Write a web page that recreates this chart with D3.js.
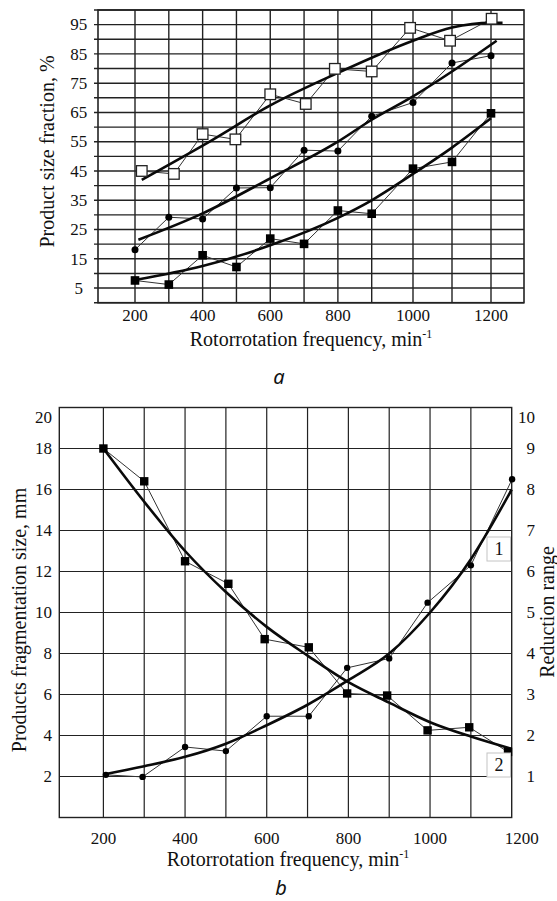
<!DOCTYPE html>
<html>
<head>
<meta charset="utf-8">
<script src="https://cdn.jsdelivr.net/npm/d3@7"></script>
<style>
  body { margin: 0; background: #fff; }
  svg { display: block; }
  svg text { font-family: "Liberation Serif", "DejaVu Serif", "Times New Roman", serif; fill: #111; }
  svg text.tag { font-family: "Noto Sans", "Open Sans", "DejaVu Sans", sans-serif; font-style: italic; }
</style>
</head>
<body>
<svg id="chart" width="557" height="901"></svg>
<script>
"use strict";

// ---- panel a: product size fraction, % ----
const freq = [200, 300, 400, 500, 600, 700, 800, 900, 1000, 1100, 1200];
const openSqFreq = [220, 315, 400, 497, 600, 705, 791, 900, 993, 1095, 1202];
const openSq = [45, 44, 57.6, 55.8, 71.2, 67.9, 79.9, 79.0, 93.9, 89.5, 97.0];
const dots = [18.1, 29.2, 28.6, 39.2, 39.3, 52.1, 51.8, 63.7, 68.4, 81.9, 84.4];
const filledSq = [7.6, 6.2, 16.2, 12.2, 21.9, 20.1, 31.5, 30.4, 45.8, 48.1, 64.7];

const openTrendFreq = [220, 427, 600, 800, 1000, 1100, 1200, 1235];
const openTrend = [42, 55.5, 67.4, 78.5, 89.5, 94, 95.6, 95.6];
const dotTrendFreq = [210, 400, 600, 800, 900, 1000, 1100, 1217];
const dotTrend = [21.5, 30.5, 42.5, 55, 62.5, 70.5, 79, 89.5];
const sqTrendFreq = [200, 400, 600, 800, 900, 1000, 1100, 1200];
const sqTrend = [7.75, 12.5, 19.6, 29, 35, 44, 53, 63];

const topYTicks = d3.range(0, 101, 5);
const topXLabels = [200, 400, 600, 800, 1000, 1200];

// ---- panel b: fragmentation size / reduction range ----
const fragFreq = [200, 300, 400, 506, 595, 703, 797, 895, 994, 1096, 1191];
const fragSize = [18.0, 16.4, 12.5, 11.4, 8.7, 8.3, 6.05, 5.95, 4.25, 4.4, 3.2];
const redFreq = [206, 296, 400, 500, 600, 703, 797, 900, 994, 1100, 1201];
const reduction = [1.04, 0.99, 1.72, 1.62, 2.47, 2.47, 3.65, 3.88, 5.24, 6.15, 8.25];
const fragTrend = [18, 15.4, 13.0, 11.0, 9.3, 7.9, 6.6, 5.6, 4.65, 3.95, 3.35];
const redTrend = [1.05, 1.25, 1.48, 1.8, 2.25, 2.75, 3.35, 4.0, 5.0, 6.3, 8.0];

const leftTicksB = d3.range(2, 21, 2);
const rightTicksB = d3.range(1, 11, 1);
const bottomXLabels = [200, 400, 600, 800, 1000, 1200];

const svg = d3.select("#chart");

function xTitle(g, cx, y) {
  let t = g.append("text")
    .attr("x", cx).attr("y", y)
    .attr("text-anchor", "middle")
    .attr("font-size", 20)
    .text("Rotorrotation frequency, min");
  t.append("tspan")
    .attr("dy", -8)
    .attr("font-size", 12)
    .text("-1");
}

function drawTop() {
  let x = d3.scaleLinear()
    .domain([100, 200, 900, 1000, 1200, 1300])
    .range([98, 135, 371.7, 413, 491, 524]);
  let y = d3.scaleLinear().domain([0, 100]).range([302.7, 10]);
  let g = svg.append("g");

  // grid
  g.append("g").selectAll("line").data(topYTicks).join("line")
    .attr("x1", 94).attr("x2", 524)
    .attr("y1", d => y(d)).attr("y2", d => y(d))
    .attr("stroke", "#222").attr("stroke-width", 1.4);
  g.append("g").selectAll("line").data(freq).join("line")
    .attr("x1", d => x(d)).attr("x2", d => x(d))
    .attr("y1", y(0)).attr("y2", y(100))
    .attr("stroke", "#222").attr("stroke-width", 1.4);
  g.append("rect")
    .attr("x", x(100)).attr("y", y(100))
    .attr("width", x(1300) - x(100)).attr("height", y(0) - y(100))
    .attr("fill", "none").attr("stroke", "#222").attr("stroke-width", 1.6);

  // tick labels
  g.append("g").selectAll("text").data(topYTicks.filter(d => d % 10 === 5)).join("text")
    .attr("x", 78.7).attr("y", d => y(d)).attr("dy", "0.34em")
    .attr("text-anchor", "middle").attr("font-size", 17)
    .text(d => d);
  g.append("g").selectAll("text").data(topXLabels).join("text")
    .attr("x", d => x(d)).attr("y", y(0) + 18)
    .attr("text-anchor", "middle").attr("font-size", 17)
    .text(d => d);

  xTitle(g, 311, 346);
  g.append("text")
    .attr("transform", "translate(54,151.5) rotate(-90)")
    .attr("text-anchor", "middle").attr("font-size", 20)
    .text("Product size fraction, %");

  let thin = d3.line().x(d => x(d[0])).y(d => y(d[1]));
  let thick = d3.line().x(d => x(d[0])).y(d => y(d[1])).curve(d3.curveMonotoneX);

  let series = [
    { f: openSqFreq, v: openSq, tf: openTrendFreq, tv: openTrend },
    { f: freq, v: dots, tf: dotTrendFreq, tv: dotTrend },
    { f: freq, v: filledSq, tf: sqTrendFreq, tv: sqTrend }
  ];
  series.forEach(function(s) {
    g.append("path")
      .attr("d", thin(d3.zip(s.f, s.v)))
      .attr("fill", "none").attr("stroke", "#333").attr("stroke-width", 1);
    g.append("path")
      .attr("d", thick(d3.zip(s.tf, s.tv)))
      .attr("fill", "none").attr("stroke", "#0a0a0a").attr("stroke-width", 2.6);
  });

  g.append("g").selectAll("rect").data(d3.zip(openSqFreq, openSq)).join("rect")
    .attr("x", d => x(d[0]) - 5.3).attr("y", d => y(d[1]) - 5.3)
    .attr("width", 10.6).attr("height", 10.6)
    .attr("fill", "#fff").attr("stroke", "#222").attr("stroke-width", 1.3);
  g.append("g").selectAll("circle").data(d3.zip(freq, dots)).join("circle")
    .attr("cx", d => x(d[0])).attr("cy", d => y(d[1])).attr("r", 3.5)
    .attr("fill", "#000");
  g.append("g").selectAll("rect").data(d3.zip(freq, filledSq)).join("rect")
    .attr("x", d => x(d[0]) - 4.3).attr("y", d => y(d[1]) - 4.3)
    .attr("width", 8.6).attr("height", 8.6)
    .attr("fill", "#000");

  svg.append("text")
    .attr("class", "tag")
    .attr("x", 279).attr("y", 384)
    .attr("text-anchor", "middle")
    .attr("font-size", 20)
    .text("a");
}

function drawBottom() {
  let x = d3.scaleLinear().domain([92, 1200]).range([59.3, 511.7]);
  let y = d3.scaleLinear().domain([0, 20]).range([817.5, 407.5]);
  let y2 = d3.scaleLinear().domain([0, 10]).range([817.5, 407.5]);
  let g = svg.append("g");

  g.append("g").selectAll("line").data(leftTicksB.filter(d => d < 20)).join("line")
    .attr("x1", x(92)).attr("x2", x(1200))
    .attr("y1", d => y(d)).attr("y2", d => y(d))
    .attr("stroke", "#222").attr("stroke-width", 1.2);
  g.append("g").selectAll("line").data(freq.filter(d => d < 1200)).join("line")
    .attr("x1", d => x(d)).attr("x2", d => x(d))
    .attr("y1", y(0)).attr("y2", y(20))
    .attr("stroke", "#222").attr("stroke-width", 1.2);
  g.append("rect")
    .attr("x", x(92)).attr("y", y(20))
    .attr("width", x(1200) - x(92)).attr("height", y(0) - y(20))
    .attr("fill", "none").attr("stroke", "#222").attr("stroke-width", 1.4);

  // tick labels (end labels nudged as in the original)
  g.append("g").selectAll("text").data(leftTicksB).join("text")
    .attr("x", 52).attr("y", d => y(d) + (d === 20 ? 10 : 0)).attr("dy", "0.34em")
    .attr("text-anchor", "end").attr("font-size", 17)
    .text(d => d);
  g.append("g").selectAll("text").data(rightTicksB).join("text")
    .attr("x", 535).attr("y", d => y2(d) + (d === 10 ? 10 : 0)).attr("dy", "0.34em")
    .attr("text-anchor", "end").attr("font-size", 17)
    .text(d => d);
  g.append("g").selectAll("text").data(bottomXLabels).join("text")
    .attr("x", d => x(d) + (d === 1200 ? 10 : 0)).attr("y", y(0) + 26)
    .attr("text-anchor", "middle").attr("font-size", 17)
    .text(d => d);

  xTitle(g, 288, 866);
  g.append("text")
    .attr("transform", "translate(25.5,620) rotate(-90)")
    .attr("text-anchor", "middle").attr("font-size", 20)
    .text("Products fragmentation size, mm");
  g.append("text")
    .attr("transform", "translate(554,612) rotate(-90)")
    .attr("text-anchor", "middle").attr("font-size", 20)
    .text("Reduction range");

  let thinF = d3.line().x(d => x(d[0])).y(d => y(d[1]));
  let thinR = d3.line().x(d => x(d[0])).y(d => y2(d[1]));
  let thickF = d3.line().x(d => x(d[0])).y(d => y(d[1])).curve(d3.curveMonotoneX);
  let thickR = d3.line().x(d => x(d[0])).y(d => y2(d[1])).curve(d3.curveMonotoneX);

  g.append("path").attr("d", thinF(d3.zip(fragFreq, fragSize)))
    .attr("fill", "none").attr("stroke", "#333").attr("stroke-width", 1);
  g.append("path").attr("d", thinR(d3.zip(redFreq, reduction)))
    .attr("fill", "none").attr("stroke", "#333").attr("stroke-width", 1);
  g.append("path").attr("d", thickF(d3.zip(freq, fragTrend)))
    .attr("fill", "none").attr("stroke", "#0a0a0a").attr("stroke-width", 2.6);
  g.append("path").attr("d", thickR(d3.zip(freq, redTrend)))
    .attr("fill", "none").attr("stroke", "#0a0a0a").attr("stroke-width", 2.6);

  g.append("g").selectAll("rect").data(d3.zip(fragFreq, fragSize)).join("rect")
    .attr("x", d => x(d[0]) - 4.2).attr("y", d => y(d[1]) - 4.2)
    .attr("width", 8.4).attr("height", 8.4)
    .attr("fill", "#000");
  g.append("g").selectAll("circle").data(d3.zip(redFreq, reduction)).join("circle")
    .attr("cx", d => x(d[0])).attr("cy", d => y2(d[1])).attr("r", 3.2)
    .attr("fill", "#000");

  // curve labels
  let labels = [
    { text: "1", x: 487, y: 537 },
    { text: "2", x: 487, y: 753 }
  ];
  let lg = g.append("g").selectAll("g").data(labels).join("g")
    .attr("transform", d => "translate(" + d.x + "," + d.y + ")");
  lg.append("rect")
    .attr("width", 23.5).attr("height", 24)
    .attr("fill", "#fff").attr("stroke", "#c4c4c4").attr("stroke-width", 1);
  lg.append("text")
    .attr("x", 12).attr("y", 18)
    .attr("text-anchor", "middle").attr("font-size", 18)
    .text(d => d.text);

  svg.append("text")
    .attr("class", "tag")
    .attr("x", 281).attr("y", 895)
    .attr("text-anchor", "middle")
    .attr("font-size", 20)
    .text("b");
}

drawTop();
drawBottom();
</script>
</body>
</html>
